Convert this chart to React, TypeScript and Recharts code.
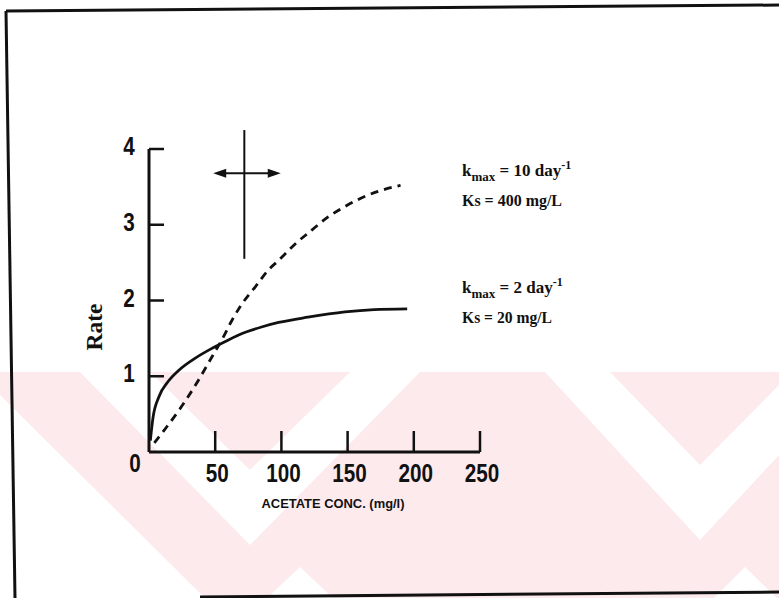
import React from "react";
import { LineChart, Line, XAxis, YAxis, ReferenceLine } from "recharts";

// Rate vs acetate concentration
const solidX = [1, 3, 7.5, 14, 22.6, 35, 47.7, 60, 72.8, 85, 97.9, 120, 148, 170, 195];
const solidY = [0.15, 0.45, 0.73, 0.92, 1.08, 1.24, 1.37, 1.48, 1.58, 1.65, 1.71, 1.78, 1.85, 1.88, 1.89];
const dashX = [4, 12, 22.6, 35, 47.7, 55, 62.7, 70, 80.3, 90, 97.9, 110, 123, 135, 148, 160, 173, 190];
const dashY = [0.12, 0.3, 0.55, 0.88, 1.26, 1.48, 1.74, 1.95, 2.18, 2.4, 2.53, 2.74, 2.93, 3.1, 3.24, 3.35, 3.44, 3.52];
const xTicks = [0, 50, 100, 150, 200, 250];
const yTicks = [0, 1, 2, 3, 4];

const solid = solidX.map((x, i) => ({ x, y: solidY[i] }));
const dashed = dashX.map((x, i) => ({ x, y: dashY[i] }));

const numFont = "'Liberation Sans', Arial, sans-serif";
const serif = "'Liberation Serif', 'DejaVu Serif', serif";

const Num = ({ x, y, v }: { x: number; y: number; v: number }) => {
  const s = String(v);
  return (
    <text
      x={x}
      y={y}
      textAnchor="middle"
      fontFamily={numFont}
      fontWeight="bold"
      fontSize={26}
      fill="#111"
      textLength={s.length * 11.5}
      lengthAdjust="spacingAndGlyphs"
    >
      {s}
    </text>
  );
};

const XTick = (props: any) => {
  const { x, y, payload } = props;
  const v = payload.value;
  if (v === 0) return <Num x={x - 14} y={y + 20} v={0} />;
  return (
    <g>
      <line x1={x} y1={y} x2={x} y2={y - 21} stroke="#111" strokeWidth={2.5} />
      <Num x={x + 2} y={y + 30} v={v} />
    </g>
  );
};

const YTick = (props: any) => {
  const { x, y, payload } = props;
  const v = payload.value;
  if (v === 0) return <g />;
  return (
    <g>
      <line x1={x} y1={y} x2={x + 15} y2={y} stroke="#111" strokeWidth={2.5} />
      <Num x={x - 20} y={y + 6} v={v} />
    </g>
  );
};

const ArrowLine = (props: any) => {
  const { x1, y1, x2, y2 } = props;
  return (
    <g>
      <line x1={x1 + 8} y1={y1} x2={x2 - 8} y2={y2} stroke="#111" strokeWidth={2} />
      <polygon points={`${x1},${y1} ${x1 + 13},${y1 - 4.5} ${x1 + 13},${y1 + 4.5}`} fill="#111" />
      <polygon points={`${x2},${y2} ${x2 - 13},${y2 - 4.5} ${x2 - 13},${y2 + 4.5}`} fill="#111" />
    </g>
  );
};

const Backdrop = () => (
  <svg width={779} height={598} style={{ position: "absolute", left: 0, top: 0 }}>
    <rect x={0} y={0} width={779} height={598} fill="#fff" />
    <rect x={0} y={372} width={779} height={226} fill="#fdeaed" />
    <polygon points="0,395 205,598 0,598" fill="#fff" />
    <polygon points="80,372 150,372 250,470 350,372 420,372 250,545" fill="#fff" />
    <polygon points="545,372 610,372 700,465 779,385 779,455 700,540" fill="#fff" />
    <polygon points="745,567 779,600 712,600" fill="#fff" />
    <polygon points="300,567 335,600 265,600" fill="#fff" />
    <polyline points="6,11 779,5" fill="none" stroke="#111" strokeWidth={3} />
    <polyline points="6,11 15,598" fill="none" stroke="#111" strokeWidth={3} />
    <polyline points="200,597 779,592" fill="none" stroke="#111" strokeWidth={3} />
  </svg>
);

const Ann = ({ y, k, ks, kw, sw }: { y: number; k: string; ks: string; kw: number; sw: number }) => (
  <g fontFamily={serif} fontWeight="bold" fill="#111">
    <text x={462} y={y} fontSize={17}>
      k<tspan fontSize={13} dy={5}>max</tspan>
      <tspan dy={-5}>{` = ${k} day`}</tspan>
      <tspan fontSize={12} dy={-7}>-1</tspan>
    </text>
    <text x={462} y={y + 30} fontSize={17} textLength={sw} lengthAdjust="spacingAndGlyphs">
      {ks}
    </text>
  </g>
);

export default function App() {
  return (
    <div style={{ position: "absolute", left: 0, top: 0, width: 779, height: 598, background: "#fff" }}>
      <Backdrop />
      <div style={{ position: "absolute", left: 0, top: 0 }}>
        <LineChart width={779} height={598} margin={{ top: 149, right: 299, bottom: 106, left: 89 }}>
          <XAxis
            type="number"
            dataKey="x"
            domain={[0, 250]}
            ticks={xTicks}
            interval={0}
            tickSize={0}
            tickMargin={0}
            tickLine={false}
            tick={XTick}
            height={40}
            axisLine={{ stroke: "#111", strokeWidth: 3 }}
            allowDataOverflow
          />
          <YAxis
            type="number"
            domain={[0, 4]}
            ticks={yTicks}
            interval={0}
            width={60}
            tickSize={0}
            tickMargin={0}
            tickLine={false}
            tick={YTick}
            axisLine={{ stroke: "#111", strokeWidth: 3 }}
          />
          <ReferenceLine
            segment={[{ x: 72, y: 4.25 }, { x: 72, y: 2.55 }]}
            stroke="#111"
            strokeWidth={2}
            ifOverflow="visible"
          />
          <ReferenceLine
            segment={[{ x: 48.5, y: 3.68 }, { x: 99.5, y: 3.68 }]}
            ifOverflow="visible"
            shape={ArrowLine}
          />
          <Line
            data={solid}
            dataKey="y"
            type="monotone"
            stroke="#111"
            strokeWidth={2.8}
            dot={false}
            isAnimationActive={false}
          />
          <Line
            data={dashed}
            dataKey="y"
            type="monotone"
            stroke="#111"
            strokeWidth={2.8}
            strokeDasharray="8 6"
            dot={false}
            isAnimationActive={false}
          />
        </LineChart>
      </div>
      <svg width={779} height={598} style={{ position: "absolute", left: 0, top: 0, pointerEvents: "none" }}>
        <text
          x={102}
          y={327}
          transform="rotate(-90 102 327)"
          textAnchor="middle"
          fontFamily={serif}
          fontWeight="bold"
          fontSize={24}
          fill="#111"
          textLength={47}
          lengthAdjust="spacingAndGlyphs"
        >
          Rate
        </text>
        <text
          x={333}
          y={508}
          textAnchor="middle"
          fontFamily={numFont}
          fontWeight="bold"
          fontSize={13.5}
          fill="#111"
          textLength={143}
          lengthAdjust="spacingAndGlyphs"
        >
          ACETATE CONC. (mg/l)
        </text>
        <Ann y={176} k="10" ks="Ks = 400 mg/L" kw={110} sw={100} />
        <Ann y={293} k="2" ks="Ks = 20 mg/L" kw={100} sw={90} />
      </svg>
    </div>
  );
}
